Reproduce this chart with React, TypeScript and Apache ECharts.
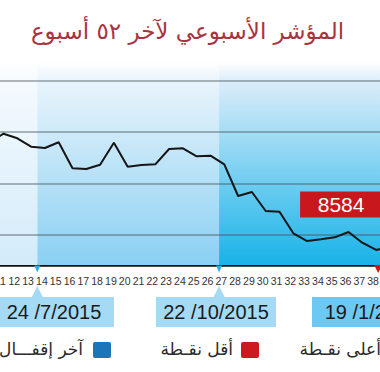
import React, { useEffect, useRef } from "react";
import * as echarts from "echarts";

const weeks = ["10","11","12","13","14","15","16","17","18","19","20","21","22","23","24","25","26","27","28","29","30","31","32","33","34","35","36","37","38","39"];
const closes = [10690,10851,10762,10598,10572,10684,10176,10163,10247,10676,10208,10241,10254,10553,10567,10410,10422,10254,9636,9714,9343,9330,8908,8758,8793,8830,8934,8725,8584,8640];
const gridValues = [11880, 10880, 9880, 8880];
const markerWeeks = ["14", "27"];
const dateLabels = ["24 /7/2015", "22 /10/2015", "19 /1/2016"];
const legendLabels = ["آخر إقفـــال", "أقل نقـطة", "أعلى نقـطة"];
const titleText = "المؤشر الأسبوعي لآخر ٥٢ أسبوع";
const Y_MIN = 8290;
const Y_MAX = 12250;

const OX = 40; // the chart canvas starts 40px left of the visible window

const grad = (top: string, bottom: string) => ({
  type: "linear", x: 0, y: 0, x2: 0, y2: 1,
  colorStops: [
    { offset: 0, color: "#ffffff" },
    { offset: 0.09, color: top },
    { offset: 1, color: bottom },
  ],
});

export default function App() {
  const ref = useRef<HTMLDivElement>(null);
  useEffect(() => {
    if (!ref.current) return;
    const chart = echarts.init(ref.current, undefined, { renderer: "svg" });
    const minIdx = closes.indexOf(Math.min(...closes));
    // period edges sit a little before the marked week's tick, as in the source
    const edges = [weeks.indexOf(markerWeeks[0]) - 0.55, weeks.indexOf(markerWeeks[1]) - 0.38];
    const arabicFont = "DejaVu Sans";
    const latinFont = "Liberation Sans";
    const dateBoxes = [
      { x: -6, fill: "#a5daf5" },
      { x: 156, fill: "#a5daf5" },
      { x: 312, fill: "#6dc9f2" },
    ];
    const graphic: any[] = [
      {
        type: "text", x: OX + 187.5, y: 31,
        style: { text: titleText, align: "center", verticalAlign: "middle", fontSize: 23, fontFamily: arabicFont, fill: "#a8343f" },
      },
    ];
    dateBoxes.forEach((b, i) => {
      graphic.push({ type: "rect", shape: { x: OX + b.x, y: 297, width: 120, height: 30 }, style: { fill: b.fill } });
      graphic.push({
        type: "text", x: OX + b.x + 60, y: 312,
        style: { text: dateLabels[i], align: "center", verticalAlign: "middle", fontSize: 20, fontFamily: latinFont, fill: "#1a1a1a" },
      });
    });
    const legendItems = [
      { sq: 93, right: 83, color: "#1a75bb" },
      { sq: 241, right: 233, color: "#cc1a20" },
      { sq: 389, right: 381, color: "#2e9e4a" },
    ];
    legendItems.forEach((l, i) => {
      graphic.push({ type: "rect", shape: { x: OX + l.sq, y: 342, width: 18, height: 16, r: 2 }, style: { fill: l.color } });
      graphic.push({
        type: "text", x: OX + l.right, y: 349,
        style: { text: legendLabels[i], align: "right", verticalAlign: "middle", fontSize: 17, fontFamily: arabicFont, fill: "#2a2a2a" },
      });
    });

    const option: any = {
      animation: false,
      grid: { left: 22.8, right: 43.2, top: 62, bottom: 107 },
      xAxis: [
        {
          type: "category",
          data: weeks,
          boundaryGap: true,
          axisLine: { lineStyle: { color: "#111", width: 2.5 } },
          axisTick: { show: false },
          splitLine: { show: false },
          axisLabel: { interval: 0, margin: 10, fontSize: 10.5, color: "#333", fontFamily: latinFont, padding: [0, 6, 0, 0] },
        },
        { type: "value", min: -0.5, max: weeks.length - 0.5, show: false, splitLine: { show: false } },
      ],
      yAxis: { type: "value", min: Y_MIN, max: Y_MAX, show: false, splitLine: { show: false } },
      graphic,
      series: [
        {
          type: "line",
          xAxisIndex: 1,
          data: [],
          silent: true,
          clip: false,
          markArea: {
            silent: true,
            data: [
              [{ xAxis: -0.5, itemStyle: { color: grad("#f5fafe", "#d3ebfa") } }, { xAxis: edges[0] }],
              [{ xAxis: edges[0], itemStyle: { color: grad("#e9f4fc", "#8ad0f3") } }, { xAxis: edges[1] }],
              [{ xAxis: edges[1], itemStyle: { color: grad("#dcedfa", "#17b3e9") } }, { xAxis: weeks.length - 0.5 }],
            ],
          },
          markPoint: {
            silent: true,
            data: [
              ...edges.map((e) => ({
                coord: [e, Y_MIN], symbol: "triangle", symbolRotate: 180, symbolSize: [6, 7], symbolOffset: [0, 4],
                itemStyle: { color: "#2aaee6" }, label: { show: false },
              })),
              ...edges.map((e) => ({
                coord: [e, Y_MIN], symbol: "triangle", symbolSize: [11, 11], symbolOffset: [0, 26.5],
                itemStyle: { color: "#a5daf5" }, label: { show: false },
              })),
            ],
          },
        },
        {
          type: "line",
          data: closes,
          symbol: "none",
          clip: false,
          lineStyle: { color: "#151515", width: 2 },
          z: 5,
          markLine: {
            silent: true,
            symbol: "none",
            label: { show: false },
            lineStyle: { color: "rgba(70,80,90,0.55)", width: 1.5, type: "solid" },
            data: gridValues.map((v) => ({ yAxis: v })),
          },
          markPoint: {
            silent: true,
            data: [
              {
                type: "min", symbol: "rect", symbolSize: [82, 26], symbolOffset: [-35, -45.5],
                itemStyle: { color: "#c9171e" },
                label: { show: true, position: "inside", formatter: "{c}", color: "#fff", fontSize: 21, fontFamily: latinFont },
              },
              {
                coord: [weeks[minIdx], Y_MIN], symbol: "triangle", symbolRotate: 180, symbolSize: [8, 8], symbolOffset: [2, 4],
                itemStyle: { color: "#d0141c" }, label: { show: false },
              },
            ],
          },
        },
      ],
    };
    chart.setOption(option);
    return () => chart.dispose();
  }, []);
  return (
    <div style={{ position: "fixed", left: 0, top: 0, width: 380, height: 372, overflow: "hidden", background: "#fff" }}>
      <div ref={ref} style={{ position: "absolute", left: -OX, top: 0, width: 480, height: 372 }} />
    </div>
  );
}
